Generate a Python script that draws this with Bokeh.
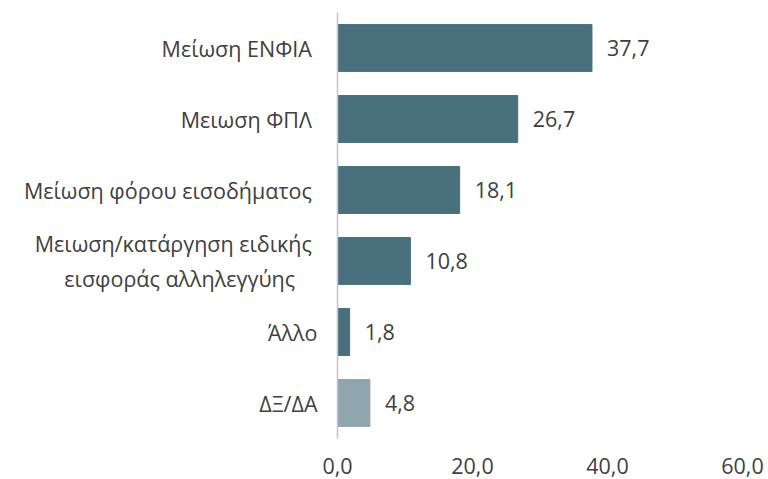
from bokeh.plotting import figure
from bokeh.models import FactorRange, Range1d, ColumnDataSource, FixedTicker, CustomJSTickFormatter
from bokeh.core.properties import value
from bokeh.embed import file_html
from bokeh.resources import INLINE

categories = [
    "Μείωση  ΕΝΦΙΑ",
    "Μειωση  ΦΠΛ",
    "Μείωση  φόρου εισοδήματος",
    "Μειωση/κατάργηση  ειδικής\nεισφοράς αλληλεγγύης\u00a0\u00a0\u00a0\u00a0",
    "Άλλο",
    "ΔΞ/ΔΑ",
]
values = [37.7, 26.7, 18.1, 10.8, 1.8, 4.8]
colors = ["#48717d", "#48717d", "#48717d", "#48717d", "#48717d", "#90a6ad"]
x_ticks = [0, 20, 40, 60]

FONT = "Open Sans"
TXT = "#404040"
FS = "21.5px"

labels = [f"{v:.1f}".replace(".", ",") for v in values]
src = ColumnDataSource(dict(cat=categories, val=values, color=colors, lab=labels))

p = figure(
    width=768, height=479,
    y_range=FactorRange(*reversed(categories), range_padding=0),
    x_range=Range1d(0, 60),
    output_backend="svg", toolbar_location=None,
    min_border_left=337, min_border_right=26, min_border_top=12, min_border_bottom=41,
)
p.outline_line_color = None
p.grid.grid_line_color = None
p.background_fill_color = "white"

p.hbar(y="cat", right="val", left=0, height=0.66, color="color", source=src)
p.text(x="val", y="cat", text="lab", source=src, x_offset=15,
       text_align="left", text_baseline="middle",
       text_font=value(FONT), text_font_size=FS, text_color=TXT)

xa = p.xaxis[0]
xa.ticker = FixedTicker(ticks=x_ticks)
xa.formatter = CustomJSTickFormatter(code="return tick.toFixed(1).replace('.', ',');")
xa.axis_line_color = None
xa.major_tick_line_color = None
xa.minor_tick_line_color = None
xa.major_label_standoff = 13
xa.major_label_text_font = FONT
xa.major_label_text_font_size = FS
xa.major_label_text_color = TXT

ya = p.yaxis[0]
ya.axis_line_color = "#c4c4c4"
ya.axis_line_width = 1.5
ya.major_tick_line_color = None
ya.minor_tick_line_color = None
ya.major_label_standoff = 14
ya.major_label_text_font = FONT
ya.major_label_text_font_size = FS
ya.major_label_text_color = TXT

open("out.html", "w").write(file_html(p, INLINE))
